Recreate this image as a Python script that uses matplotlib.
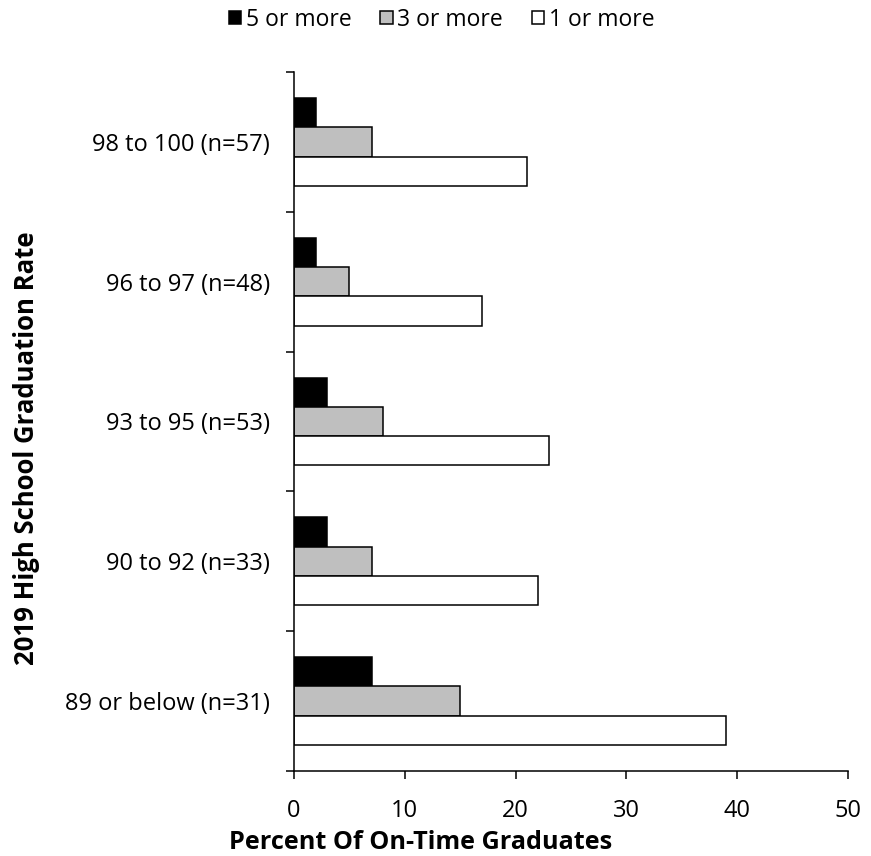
import numpy as np
import matplotlib.pyplot as plt
from matplotlib.patches import Patch

plt.rcParams['font.family'] = ['Open Sans', 'DejaVu Sans']

categories = ['98 to 100 (n=57)', '96 to 97 (n=48)', '93 to 95 (n=53)',
              '90 to 92 (n=33)', '89 or below (n=31)']
five_or_more = [2, 2, 3, 3, 7]
three_or_more = [7, 5, 8, 7, 15]
one_or_more = [21, 17, 23, 22, 39]
series_names = ['5 or more', '3 or more', '1 or more']
series_colors = ['black', '#bfbfbf', 'white']

W, H = 871, 856
fig = plt.figure(figsize=(W / 100, H / 100), dpi=100)
renderer = fig.canvas.get_renderer()


def fit_size(text, target_px, weight='normal'):
    # font size (pt) that makes `text` about target_px wide
    t = fig.text(0, 0, text, fontsize=10, fontweight=weight)
    w = t.get_window_extent(renderer).width
    t.remove()
    return 10 * target_px / w


tick_fs = fit_size('96 to 97 (n=48)', 164)
leg_fs = fit_size('5 or more', 105)
xlab_fs = fit_size('Percent Of On-Time Graduates', 384, 'bold')
ylab_fs = fit_size('2019 High School Graduation Rate', 435, 'bold')

ax = fig.add_axes([294 / W, (H - 771) / H, (848 - 294) / W, (771 - 72) / H])

y = np.arange(len(categories))
h = 0.209
for k, (vals, col) in enumerate(zip([five_or_more, three_or_more, one_or_more], series_colors)):
    ax.barh(y + (k - 1) * h, vals, height=h, color=col, edgecolor='black', linewidth=1.1)

ax.set_xlim(0, 50)
ax.set_ylim(len(categories) - 0.5, -0.5)
ax.set_xticks(range(0, 51, 10))
ax.set_yticks(np.arange(-0.5, len(categories), 1.0))
ax.set_yticklabels([])
ax.set_yticks(y, minor=True)
ax.set_yticklabels(categories, minor=True)
ax.tick_params(axis='y', which='minor', length=0, pad=17.5, labelsize=tick_fs)
ax.tick_params(axis='y', which='major', length=5.5, width=1.1, direction='out')
ax.tick_params(axis='x', length=6, width=1.1, direction='out', labelsize=tick_fs, pad=14.5)
for s in ['top', 'right']:
    ax.spines[s].set_visible(False)
for s in ['left', 'bottom']:
    ax.spines[s].set_linewidth(1.1)

fig.text(27 / W, 1 - 448.5 / H, '2019 High School Graduation Rate', fontsize=ylab_fs,
         fontweight='bold', rotation=90, ha='center', va='center')
fig.text(421 / W, 1 - 849 / H, 'Percent Of On-Time Graduates', fontsize=xlab_fs,
         fontweight='bold', ha='center', va='baseline')

handles = [Patch(facecolor=c, edgecolor='black', linewidth=1.1) for c in series_colors]
fig.legend(handles, series_names, loc='center', bbox_to_anchor=(441.5 / W, 1 - 20 / H),
           ncol=3, frameon=False, fontsize=leg_fs, handlelength=0.55, handleheight=0.5,
           handletextpad=0.2, columnspacing=1.25, borderpad=0)

fig.savefig('out.png', dpi=100)
